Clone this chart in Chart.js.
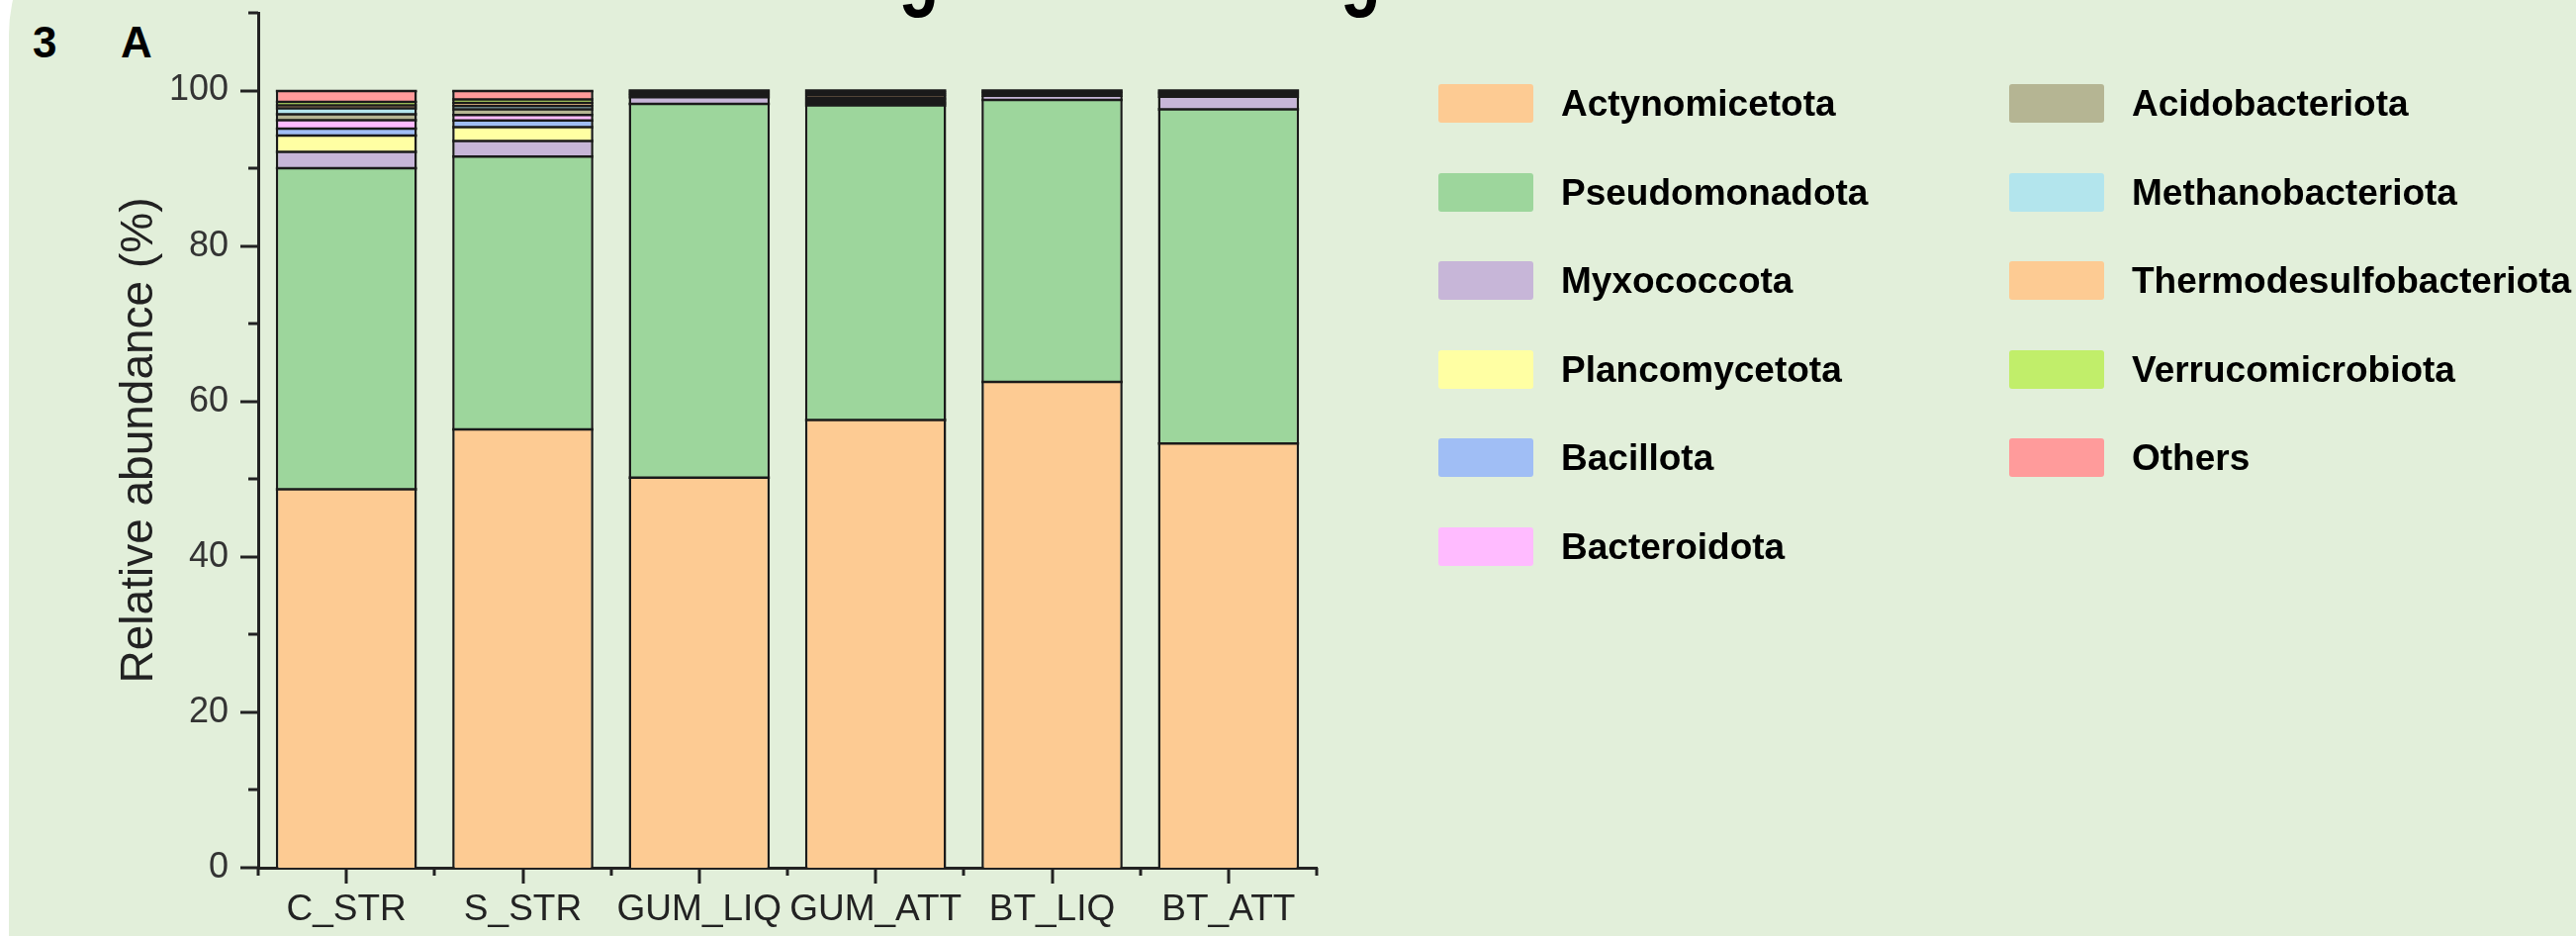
<!DOCTYPE html>
<html>
<head>
<meta charset="UTF-8">
<title>Relative abundance</title>
<script src="https://cdn.jsdelivr.net/npm/chart.js@4"></script>
<style>
  html, body { margin: 0; padding: 0; background: #fff; }
  body { width: 2604px; height: 946px; position: relative; overflow: hidden; font-family: "Liberation Sans", Arial, sans-serif; }
  .panel { position: absolute; left: 9px; top: -120px; right: -200px; bottom: -200px; background: #e2efda; border-radius: 155px; }
  .headline { position: absolute; left: 756px; top: -77px; font-size: 90px; font-weight: bold; line-height: 1; white-space: nowrap; color: #000;
              transform: scaleX(0.744); transform-origin: left top; }
  .tag { position: absolute; top: 21px; font-size: 44px; font-weight: bold; line-height: 1; color: #000; }
  #chart { position: absolute; left: 0; top: 0; }
  .legend { position: absolute; left: 1454px; top: 85px; display: grid; grid-auto-flow: column;
            grid-template-rows: repeat(6, 89.6px); grid-template-columns: 577px 500px; }
  .item { display: flex; align-items: flex-start; height: 39px; }
  .swatch { width: 96px; height: 39px; border-radius: 3px; margin-right: 28px; flex: none; }
  .label { font-size: 37px; font-weight: bold; line-height: 39px; color: #000; white-space: nowrap; }
</style>
</head>
<body>
  <div class="panel"></div>
  <div class="headline">Metagenomic Metagenetic</div>
  <div class="tag" style="left:33px">3</div>
  <div class="tag" style="left:122px">A</div>
  <canvas id="chart" width="2604" height="946"></canvas>
  <div class="legend" id="legend"></div>

<script>
  // Samples on the x axis
  const samples = ['C_STR', 'S_STR', 'GUM_LIQ', 'GUM_ATT', 'BT_LIQ', 'BT_ATT'];

  // Relative abundance (%) per phylum, stacked from the bottom up
  const actynomicetota = [48.7, 56.4, 50.2, 57.6, 62.5, 54.6];
  const pseudomonadota = [41.3, 35.1, 48.1, 40.5, 36.3, 43.0];
  const myxococcota = [2.1, 2.0, 0.85, 0.3, 0.55, 1.6];
  const plancomycetota = [2.1, 1.8, 0.1, 0.2, 0.05, 0.1];
  const bacillota = [0.9, 0.85, 0.1, 0.1, 0.05, 0.05];
  const bacteroidota = [1.1, 0.7, 0.05, 0.05, 0.05, 0.05];
  const acidobacteriota = [0.75, 0.75, 0.15, 0.3, 0.1, 0.1];
  const methanobacteriota = [0.75, 0.4, 0.05, 0.05, 0.05, 0.05];
  const thermodesulfobacteriota = [0.4, 0.4, 0.15, 0.35, 0.2, 0.15];
  const verrucomicrobiota = [0.45, 0.45, 0.15, 0.3, 0.1, 0.15];
  const others = [1.4, 1.1, 0.1, 0.25, 0.05, 0.15];

  // y axis ticks
  const yMax = 110;
  const yLabelStep = 20;
  const yMinorStep = 10;

  const series = [
    ['Actynomicetota', actynomicetota, '#fdcb93'],
    ['Pseudomonadota', pseudomonadota, '#9dd69c'],
    ['Myxococcota', myxococcota, '#c7b6d8'],
    ['Plancomycetota', plancomycetota, '#ffffa3'],
    ['Bacillota', bacillota, '#a0bef5'],
    ['Bacteroidota', bacteroidota, '#ffbbff'],
    ['Acidobacteriota', acidobacteriota, '#b5b593'],
    ['Methanobacteriota', methanobacteriota, '#b3e5ed'],
    ['Thermodesulfobacteriota', thermodesulfobacteriota, '#fdcb93'],
    ['Verrucomicrobiota', verrucomicrobiota, '#c1ee6a'],
    ['Others', others, '#ff9b9b']
  ];

  const font = '"Liberation Sans", Arial, sans-serif';
  const ink = '#222';
  const edge = '#1a1a1a';

  // line on top of every stacked segment, fixed width like the original plot
  const segmentLines = {
    id: 'segmentLines',
    afterDatasetsDraw(chart) {
      const ctx = chart.ctx;
      ctx.save();
      ctx.strokeStyle = edge;
      ctx.lineWidth = 2.5;
      ctx.beginPath();
      chart.data.datasets.forEach((ds, i) => {
        chart.getDatasetMeta(i).data.forEach(bar => {
          const { x, y, width } = bar.getProps(['x', 'y', 'width'], true);
          ctx.moveTo(x - width / 2, y);
          ctx.lineTo(x + width / 2, y);
        });
      });
      ctx.stroke();
      ctx.restore();
    }
  };

  // short outward tick marks, major at labels / bar centres, minor in between
  const axisTicks = {
    id: 'axisTicks',
    afterDraw(chart) {
      const { ctx, scales: { x, y } } = chart;
      ctx.save();
      ctx.strokeStyle = ink;
      ctx.lineWidth = 3;
      ctx.beginPath();
      for (let v = 0; v <= yMax; v += yMinorStep) {
        const py = Math.round(y.getPixelForValue(v));
        const len = v % yLabelStep === 0 ? 18 : 10;
        ctx.moveTo(y.right - len, py);
        ctx.lineTo(y.right, py);
      }
      const n = samples.length;
      for (let i = 0; i < n; i++) {
        const px = Math.round(x.getPixelForValue(i));
        ctx.moveTo(px, x.top);
        ctx.lineTo(px, x.top + 16);
      }
      const step = (x.right - x.left) / n;
      for (let i = 0; i <= n; i++) {
        const px = Math.round(x.left + step * i);
        ctx.moveTo(px, x.top);
        ctx.lineTo(px, x.top + 8);
      }
      ctx.stroke();
      ctx.restore();
    }
  };

  const chart = new Chart(document.getElementById('chart'), {
    type: 'bar',
    data: {
      labels: samples,
      datasets: series.map(([name, values, color]) => ({
        label: name,
        data: values,
        backgroundColor: color,
        borderColor: edge,
        borderWidth: { top: 0, left: 2.5, right: 2.5, bottom: 0 },
        categoryPercentage: 1,
        barPercentage: 0.8
      }))
    },
    options: {
      responsive: false,
      animation: false,
      layout: { padding: { left: 114, right: 1273, top: 13, bottom: 0 } },
      plugins: {
        legend: { display: false },
        tooltip: { enabled: false }
      },
      scales: {
        x: {
          stacked: true,
          grid: { display: false, drawTicks: false },
          border: { display: true, color: ink, width: 3 },
          ticks: { color: ink, font: { family: font, size: 37 }, padding: 21, maxRotation: 0, autoSkip: false },
          afterFit: s => { s.height = 69; s.paddingLeft = 0; s.paddingRight = 0; }
        },
        y: {
          stacked: true,
          min: 0,
          max: yMax,
          grid: { display: false, drawTicks: false },
          border: { display: true, color: ink, width: 3 },
          ticks: {
            stepSize: yLabelStep,
            color: '#333',
            font: { family: font, size: 36 },
            padding: 30,
            callback: v => (v % yLabelStep === 0 && v <= 100 ? v : '')
          },
          title: { display: true, text: 'Relative abundance (%)', color: ink, font: { family: font, size: 46 }, padding: 0 },
          afterFit: s => { s.width = 147; s.paddingTop = 0; s.paddingBottom = 0; }
        }
      }
    },
    plugins: [segmentLines, axisTicks]
  });

  // legend built from the chart's datasets, two columns
  const legend = document.getElementById('legend');
  chart.data.datasets.forEach(ds => {
    const item = document.createElement('div');
    item.className = 'item';
    item.innerHTML = `<span class="swatch" style="background:${ds.backgroundColor}"></span><span class="label">${ds.label}</span>`;
    legend.appendChild(item);
  });
</script>
</body>
</html>
